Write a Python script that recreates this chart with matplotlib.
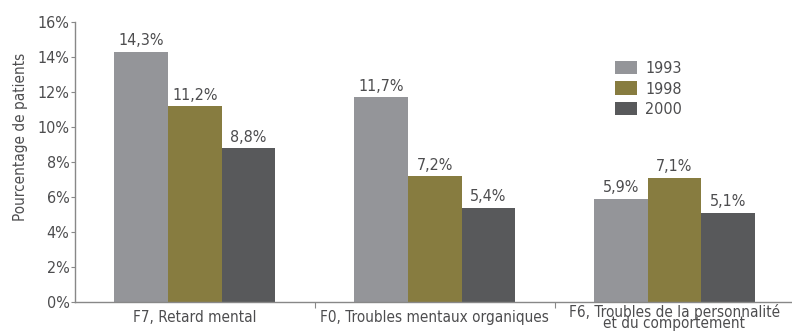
import matplotlib.pyplot as plt
import numpy as np

categories = ["F7, Retard mental", "F0, Troubles mentaux organiques",
              "F6, Troubles de la personnalité\net du comportement"]
years = ["1993", "1998", "2000"]
v1993 = [14.3, 11.7, 5.9]
v1998 = [11.2, 7.2, 7.1]
v2000 = [8.8, 5.4, 5.1]
colors = ["#949599", "#877c40", "#58595b"]

plt.rcParams['font.family'] = ['DejaVu Sans']
plt.rcParams['font.stretch'] = 'condensed'
txt = "#4d4d4f"

fig = plt.figure(figsize=(7.92, 3.35), dpi=100)
ax = fig.add_axes([0.0947, 0.0985, 0.9053, 0.8355])

x = np.arange(len(categories))
w = 0.224
for i, (vals, lab) in enumerate(zip([v1993, v1998, v2000], years)):
    bars = ax.bar(x + (i - 1) * w, vals, w, color=colors[i], label=lab)
    for b, v in zip(bars, vals):
        ax.text(b.get_x() + b.get_width() / 2, v + 0.2, ("%.1f%%" % v).replace(".", ","),
                ha="center", va="bottom", fontsize=11.5, color=txt)

ax.set_xlim(-0.5, 2.49)
ax.set_ylim(0, 16)
ax.set_yticks(range(0, 17, 2))
ax.set_yticklabels(["%d%%" % t for t in range(0, 17, 2)], fontsize=11.5, color=txt)
ax.set_xticks([0.5, 1.5])
ax.set_xticklabels([])
ax.tick_params(axis="x", length=4, color="#888888", direction="out")
ax.tick_params(axis="y", length=3, color="#888888", pad=1)
for i, c in enumerate(categories):
    ax.text(i, -0.88, c, ha="center", va="center", fontsize=11, color=txt, linespacing=0.68)

for s in ["top", "right"]:
    ax.spines[s].set_visible(False)
for s in ["left", "bottom"]:
    ax.spines[s].set_color("#888888")
    ax.spines[s].set_linewidth(1)

ax.set_ylabel("Pourcentage de patients", fontsize=11, color=txt)
ax.yaxis.set_label_coords(-0.066, 0.589)

leg = ax.legend(loc="upper left", bbox_to_anchor=(0.753, 0.862), frameon=False,
                fontsize=11.5, handlelength=1.4, handleheight=0.9, handletextpad=0.5,
                labelspacing=0.35, borderpad=0, borderaxespad=0)
for t in leg.get_texts():
    t.set_color(txt)

fig.savefig("out.png", dpi=100)
